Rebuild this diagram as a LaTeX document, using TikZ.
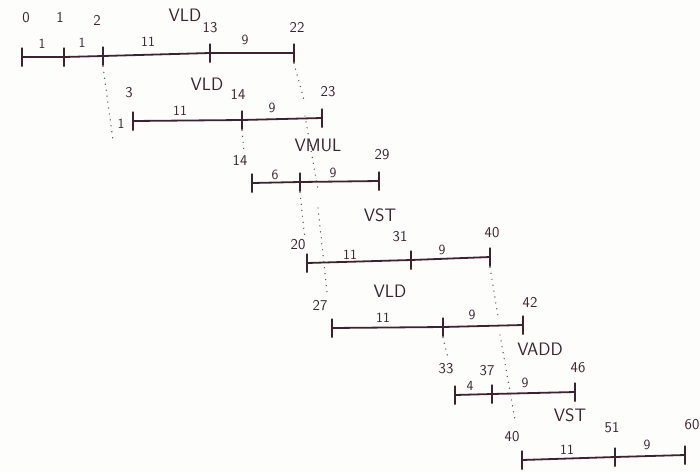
\documentclass[tikz,border=0pt]{standalone}
\usepackage{tikz}
\usetikzlibrary{positioning}
\definecolor{ink}{RGB}{62,34,50}
\definecolor{paper}{RGB}{253,253,251}

\begin{document}
\begin{tikzpicture}[
  x=1pt, y=-1pt,
  every node/.style={font=\sffamily\fontsize{15}{17}\selectfont,text=ink},
  tick/.style={draw=ink,line width=1.8pt,inner sep=0pt,
               minimum width=0pt,minimum height=19pt},
  opname/.style={font=\sffamily\fontsize{18}{20}\selectfont},
  seglbl/.style={font=\sffamily\fontsize{14}{16}\selectfont},
  tl/.style={line width=1.8pt,ink},
  dots/.style={line width=1.4pt,ink!85,line cap=round,
               dash pattern=on 0pt off 6pt},
]
  \useasboundingbox[fill=paper] (0,0) rectangle (700,472);

  % VLD 0..22
  \node[tick] (a0)  at (22,57)  {};
  \node[tick] (a1)  at (64,57)  {};
  \node[tick] (a2)  at (103,56) {};
  \node[tick] (a13) at (210,53) {};
  \node[tick] (a22) at (294,53) {};
  \node at (26,18)  {0};
  \node at (60,17)  {1};
  \node at (97,20)  {2};
  \node[opname] at (185,15) {VLD};
  \node at (210,28) {13};
  \node at (297,27) {22};
  \node[seglbl] at (42,44)  {1};
  \node[seglbl] at (82,43)  {1};
  \node[seglbl] at (148,42) {11};
  \node[seglbl] at (245,40) {9};

  % VLD 3..23
  \node[tick] (b3)  at (133,121) {};
  \node[tick] (b14) at (242,120) {};
  \node[tick] (b23) at (322,118) {};
  \node at (129,93) {3};
  \node[opname] at (207,84) {VLD};
  \node at (238,94) {14};
  \node at (328,92) {23};
  \node[seglbl] at (180,111) {11};
  \node[seglbl] at (272,108) {9};
  \node[seglbl] at (121,124) {1};

  % VMUL 14..29
  \node[tick] (c14) at (252,183) {};
  \node[tick] (c20) at (300,182) {};
  \node[tick] (c29) at (379,181) {};
  \node at (240,160) {14};
  \node[opname] at (318,145) {VMUL};
  \node at (382,155) {29};
  \node[seglbl] at (275,175) {6};
  \node[seglbl] at (333,173) {9};

  % VST 20..40
  \node[tick] (d20) at (307,263) {};
  \node[tick] (d31) at (411,260) {};
  \node[tick] (d40) at (490,257) {};
  \node at (298,245) {20};
  \node[opname] at (380,215) {VST};
  \node at (400,237) {31};
  \node at (492,233) {40};
  \node[seglbl] at (350,255) {11};
  \node[seglbl] at (442,250) {9};

  % VLD 27..42
  \node[tick] (e27) at (332,328) {};
  \node[tick] (e38) at (443,327) {};
  \node[tick] (e42) at (523,325) {};
  \node at (320,305) {27};
  \node[opname] at (390,291) {VLD};
  \node at (530,302) {42};
  \node[seglbl] at (383,318) {11};
  \node[seglbl] at (472,315) {9};

  % VADD 33..46
  \node[tick] (f33) at (455,395) {};
  \node[tick] (f37) at (492,394) {};
  \node[tick] (f46) at (575,392) {};
  \node at (446,369) {33};
  \node at (487,371) {37};
  \node[opname] at (540,349) {VADD};
  \node at (578,368) {46};
  \node[seglbl] at (470,386) {4};
  \node[seglbl] at (525,383) {9};

  % VST 40..60
  \node[tick] (g40) at (522,460) {};
  \node[tick] (g51) at (615,457) {};
  \node[tick] (g60) at (685,455) {};
  \node at (512,437) {40};
  \node[opname] at (570,415) {VST};
  \node at (612,428) {51};
  \node at (692,425) {60};
  \node[seglbl] at (567,450) {11};
  \node[seglbl] at (647,445) {9};

  % Time lines
  \draw[tl] (a0) -- (a1) -- (a2) -- (a13) -- (a22);
  \draw[tl] (b3) -- (b14) -- (b23);
  \draw[tl] (c14) -- (c20) -- (c29);
  \draw[tl] (d20) -- (d31) -- (d40);
  \draw[tl] (e27) -- (e38) -- (e42);
  \draw[tl] (f33) -- (f37) -- (f46);
  \draw[tl] (g40) -- (g51) -- (g60);

  % Dependences
  \coordinate (p1) at (113,140);
  \coordinate (p2) at (304,100);
  \coordinate (p3) at (305,116);
  \coordinate (p4) at (318,190);
  \coordinate (p5) at (318,208);
  \coordinate (p6) at (327,292);
  \coordinate (p7) at (244,152);
  \coordinate (p8) at (305,240);
  \coordinate (p9) at (498,316);
  \coordinate (p10) at (448,358);
  \coordinate (p11) at (500,335);
  \coordinate (p12) at (515,420);
  \draw[dots] (a2.south) -- (p1);
  \draw[dots] (a22.south) -- (p2);
  \draw[dots] (p3) -- (p4);
  \draw[dots] (p5) -- (p6);
  \draw[dots] (b14.south) -- (p7);
  \draw[dots] (c20.south) -- (p8);
  \draw[dots] (d40.south) -- (p9);
  \draw[dots] (e38.south) -- (p10);
  \draw[dots] (p11) -- (p12);
\end{tikzpicture}
\end{document}
